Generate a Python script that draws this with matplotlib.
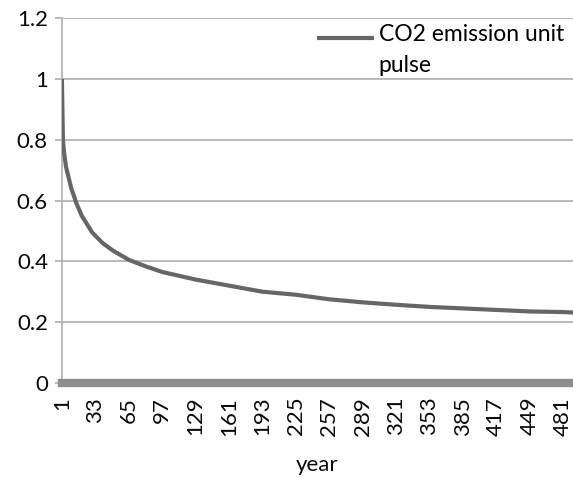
import numpy as np
import matplotlib
matplotlib.use('Agg')
import matplotlib.pyplot as plt

# remaining fraction of a unit CO2 pulse, read at selected years
years = [1, 2, 3, 5, 10, 15, 20, 30, 40, 50, 65, 80, 97, 129, 161, 193,
         225, 257, 289, 321, 353, 385, 417, 449, 481, 500]
fraction = [1.00, 0.80, 0.76, 0.71, 0.64, 0.59, 0.55, 0.495, 0.46, 0.435,
            0.405, 0.385, 0.365, 0.34, 0.32, 0.30, 0.29, 0.275, 0.265,
            0.257, 0.25, 0.245, 0.24, 0.235, 0.233, 0.23]
x_ticks = list(range(1, 482, 32))
y_ticks = [0, 0.2, 0.4, 0.6, 0.8, 1, 1.2]
y_tick_labels = ['0', '0.2', '0.4', '0.6', '0.8', '1', '1.2']

plt.rcParams['font.family'] = ['Lato', 'DejaVu Sans']

fig = plt.figure(figsize=(5.73, 4.78), dpi=100)
ax = fig.add_axes([0.108, 0.199, 0.892, 0.763])

ax.plot(years, fraction, color='#666666', lw=3, solid_capstyle='butt',
        label='CO2 emission unit\npulse', zorder=3)

ax.set_xlim(1, 490.5)
ax.set_ylim(0, 1.2)
ax.set_yticks(y_ticks)
ax.set_yticklabels(y_tick_labels)
ax.set_xticks(x_ticks)
ax.set_xticklabels([str(t) for t in x_ticks], rotation=90)

ax.grid(axis='y', color='#b4b4b4', lw=1.3)
ax.set_axisbelow(True)
for side in ['top', 'right']:
    ax.spines[side].set_visible(False)
ax.spines['left'].set_color('#b4b4b4')
ax.spines['left'].set_linewidth(1.3)
ax.spines['bottom'].set_color('#8e8e8e')
ax.spines['bottom'].set_linewidth(6)
ax.spines['bottom'].set_zorder(4)

ax.tick_params(axis='y', length=5, width=1.3, color='#b4b4b4',
               labelsize=16, pad=5, labelcolor='#0a0a0a')
ax.tick_params(axis='x', length=0, labelsize=16, pad=10, labelcolor='#0a0a0a')

ax.set_xlabel('year', fontsize=16, color='#0a0a0a', labelpad=14)

# handle box made tall so the line sits next to the first text line
leg = ax.legend(loc='upper right', bbox_to_anchor=(1.0, 1.025), frameon=False,
                fontsize=16.5, handlelength=2.5, handletextpad=0.2,
                handleheight=4.2, borderaxespad=0.0, labelspacing=0.2)
for line in leg.get_lines():
    line.set_linewidth(3)
for txt in leg.get_texts():
    txt.set_linespacing(1.6)

fig.savefig('out.png', dpi=100)
